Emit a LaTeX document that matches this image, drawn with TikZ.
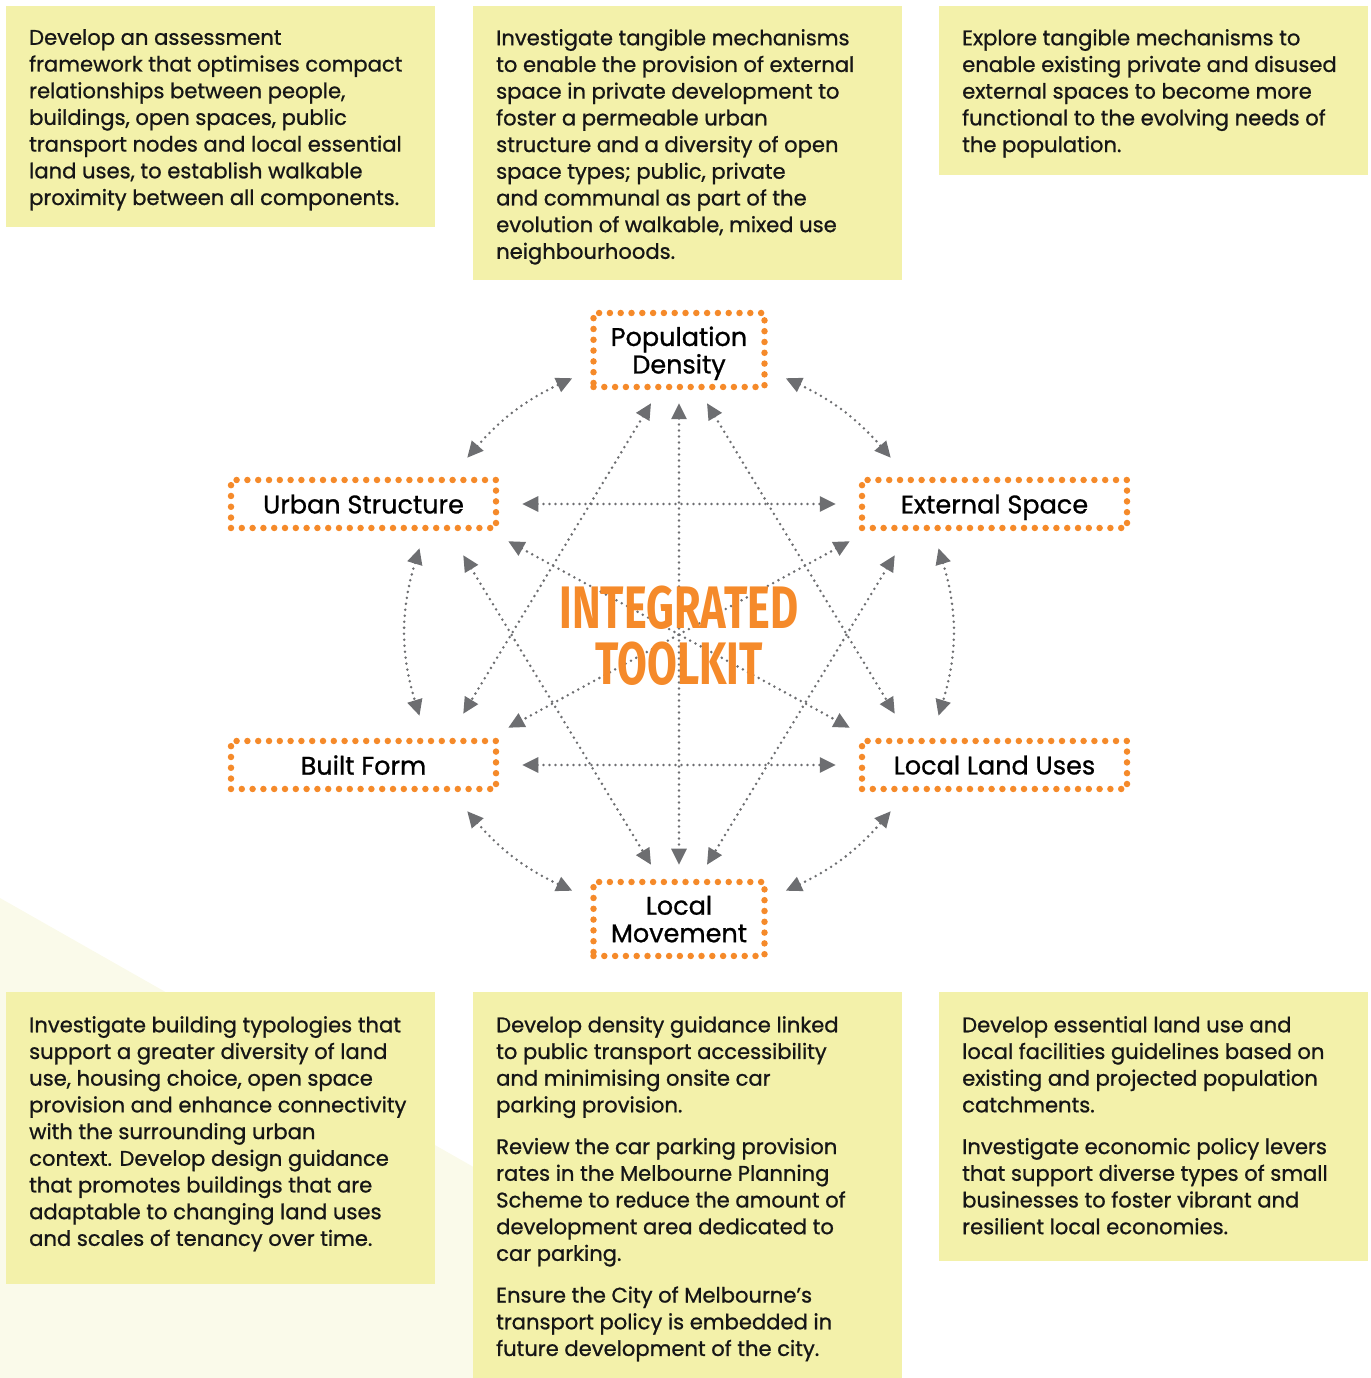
\documentclass[tikz,border=0pt]{standalone}
\usepackage{fontspec}
\setmainfont{Poppins}
\newfontfamily\bodyfont[FakeBold=0.9]{Poppins}
\newfontfamily\titlefont[FakeStretch=0.72]{Fira Sans}
\usetikzlibrary{calc,arrows.meta}
\definecolor{panelyellow}{HTML}{F3F1AA}
\definecolor{faintyellow}{HTML}{FAFAEA}
\definecolor{kitorange}{HTML}{F58A2A}
\definecolor{linkgray}{HTML}{6D6E71}
\definecolor{bodyblack}{HTML}{161616}
\tikzset{
  panel/.style={fill=panelyellow},
  paneltxt/.style={anchor=north west, inner sep=0pt, align=left,
    text=bodyblack, font={\bodyfont\fontsize{21.1}{26.7}\selectfont}},
  factor/.style={draw=kitorange, line width=6.5pt, dash pattern=on 0pt off 10.8pt,
    line cap=round, inner sep=0pt, align=center, text=black, text depth=0pt,
    font={\bodyfont\fontsize{25.5}{27.5}\selectfont}},
  link/.style={<->, draw=linkgray, line width=2.8pt, dash pattern=on 0pt off 6pt,
    line cap=round, >={Triangle[length=16pt,width=15pt]}},
  kit/.style={text=kitorange, align=center, inner sep=0pt,
    font={\titlefont\bfseries\fontsize{60}{56}\selectfont}},
}
\begin{document}
\begin{tikzpicture}[x=1pt,y=1pt]
\useasboundingbox (0,0) rectangle (1370,1378);
\fill[faintyellow] (0,480) -- (845,0) -- (0,0) -- cycle;
% text panels
\fill[panel] (6,1151) rectangle (435,1372);
\fill[panel] (473,1098) rectangle (902,1372);
\fill[panel] (939,1203) rectangle (1368,1372);
\fill[panel] (6,94) rectangle (435,386);
\fill[panel] (473,0) rectangle (902,386);
\fill[panel] (939,117) rectangle (1368,386);
\node[paneltxt] (assess) at (29,1349) {Develop an assessment\\framework that optimises compact\\relationships between people,\\buildings, open spaces, public\\transport nodes and local essential\\land uses, to establish walkable\\proximity between all components.};
\node[paneltxt] (mech) at (496,1349) {Investigate tangible mechanisms\\to enable the provision of external\\space in private development to\\foster a permeable urban\\structure and a diversity of open\\space types; public, private\\and communal as part of the\\evolution of walkable, mixed use\\neighbourhoods.};
\node[paneltxt] (explore) at (962,1349) {Explore tangible mechanisms to\\enable existing private and disused\\external spaces to become more\\functional to the evolving needs of\\the population.};
\node[paneltxt] (typo) at (29,362) {Investigate building typologies that\\support a greater diversity of land\\use, housing choice, open space\\provision and enhance connectivity\\with the surrounding urban\\context. Develop design guidance\\that promotes buildings that are\\adaptable to changing land uses\\and scales of tenancy over time.};
\node[paneltxt] (dens) at (496,362) {Develop density guidance linked\\to public transport accessibility\\and minimising onsite car\\parking provision.\\[15pt]Review the car parking provision\\rates in the Melbourne Planning\\Scheme to reduce the amount of\\development area dedicated to\\car parking.\\[15pt]Ensure the City of Melbourne’s\\transport policy is embedded in\\future development of the city.};
\node[paneltxt] (land) at (962,362) {Develop essential land use and\\local facilities guidelines based on\\existing and projected population\\catchments.\\[15pt]Investigate economic policy levers\\that support diverse types of small\\businesses to foster vibrant and\\resilient local economies.};
% factors
\node[factor, minimum width=171, minimum height=74] (pd) at (679,1028) {Population\\Density};
\node[factor, minimum width=265, minimum height=48] (us) at (363.5,874) {Urban Structure};
\node[factor, minimum width=265, minimum height=48] (es) at (994.5,874) {External Space};
\node[factor, minimum width=265, minimum height=48] (bf) at (363.5,613) {Built Form};
\node[factor, minimum width=265, minimum height=48] (llu) at (994.5,613) {Local Land Uses};
\node[factor, minimum width=171, minimum height=74] (lm) at (679,459) {Local\\Movement};
% links
\draw[link] ($(us.north east)+(-32,19)$) to[bend left=12] ($(pd.south west)+(-18,12)$);
\draw[link] ($(pd.south east)+(18,12)$) to[bend left=12] ($(es.north west)+(32,19)$);
\draw[link] ($(us.south)+(56,-17)$) to[bend right=17] ($(bf.north)+(56,22)$);
\draw[link] ($(es.south)+(-56,-17)$) to[bend left=17] ($(llu.north)+(-56,22)$);
\draw[link] ($(bf.south east)+(-32,-19)$) to[bend right=12] ($(lm.north west)+(-18,-12)$);
\draw[link] ($(lm.north east)+(18,-12)$) to[bend right=12] ($(llu.south west)+(32,-19)$);
\draw[link] ($(us.east)+(23,0)$) -- ($(es.west)+(-23,0)$);
\draw[link] ($(bf.east)+(23,0)$) -- ($(llu.west)+(-23,0)$);
\draw[link] ($(pd.south)+(0,-13)$) -- ($(lm.north)+(0,14)$);
\draw[link] ($(pd.south)+(-28,-13)$) -- ($(bf.north east)+(-36,24)$);
\draw[link] ($(pd.south)+(28,-13)$) -- ($(llu.north west)+(36,24)$);
\draw[link] ($(us.south east)+(-36,-24)$) -- ($(lm.north)+(-28,14)$);
\draw[link] ($(es.south west)+(36,-24)$) -- ($(lm.north)+(28,14)$);
\draw[link] ($(us.south east)+(9,-10)$) -- ($(llu.north west)+(-9,10)$);
\draw[link] ($(es.south west)+(-9,-10)$) -- ($(bf.north east)+(9,10)$);
\node[kit] (title) at (679,742) {INTEGRATED\\TOOLKIT};
\end{tikzpicture}
\end{document}
